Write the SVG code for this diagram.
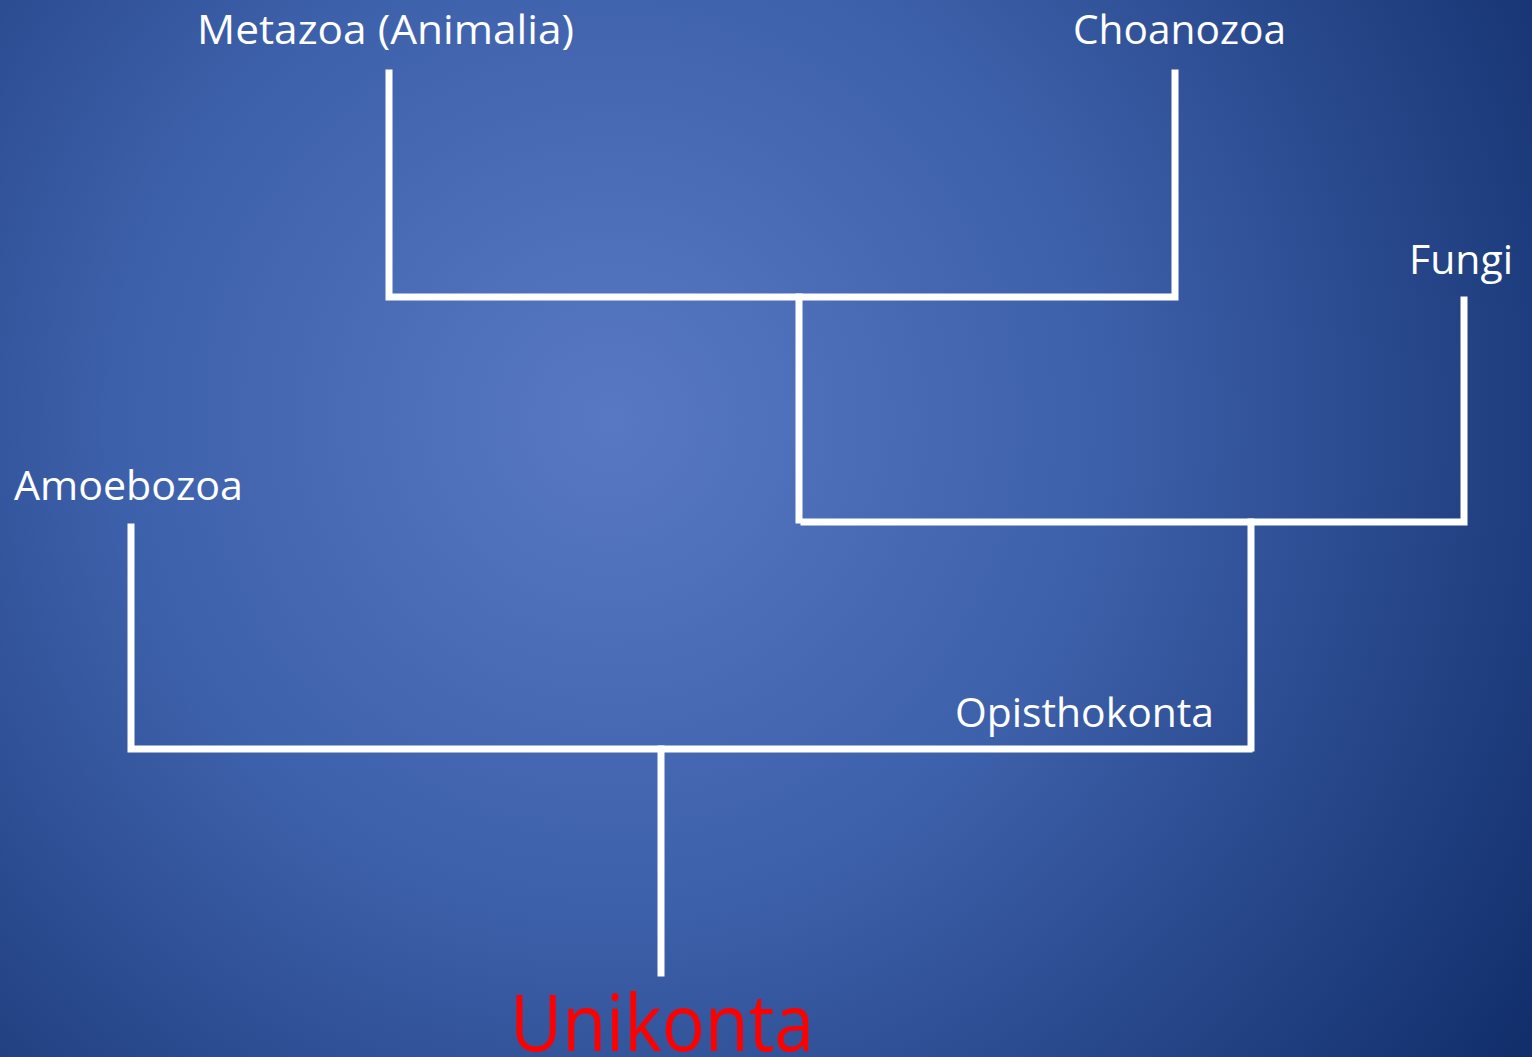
<svg xmlns="http://www.w3.org/2000/svg" width="1532" height="1057" viewBox="0 0 1532 1057">
<defs>
<radialGradient id="bg" gradientUnits="userSpaceOnUse" cx="610" cy="420" r="1100">
<stop offset="0" stop-color="#5878c4"/>
<stop offset="0.45" stop-color="#3d60aa"/>
<stop offset="1" stop-color="#122f6c"/>
</radialGradient>
<style>
.lbl{font-family:"Open Sans","Noto Sans",sans-serif;font-size:41px;fill:#ffffff}
.root{font-family:"Open Sans","Noto Sans",sans-serif;font-size:78px;fill:#ff0000}
.br{stroke:#ffffff;stroke-width:7;fill:none;stroke-linecap:square}
</style>
</defs>
<rect width="1532" height="1057" fill="url(#bg)"/>
<g id="connectors">
<polyline class="br" points="389,73 389,297 1175,297 1175,73"/>
<polyline class="br" points="799,297 799,520"/>
<polyline class="br" points="804,522 1464,522 1464,300"/>
<polyline class="br" points="1251,522 1251,748"/>
<polyline class="br" points="131,527 131,749 1249,749"/>
<polyline class="br" points="661,749 661,973"/>
</g>
<g id="metazoa"><text class="lbl" x="197" y="44" textLength="377" lengthAdjust="spacingAndGlyphs">Metazoa (Animalia)</text></g>
<g id="choanozoa"><text class="lbl" x="1073" y="44" textLength="213" lengthAdjust="spacingAndGlyphs">Choanozoa</text></g>
<g id="fungi"><text class="lbl" x="1409" y="274" textLength="104" lengthAdjust="spacingAndGlyphs">Fungi</text></g>
<g id="amoebozoa"><text class="lbl" x="14" y="500" textLength="229" lengthAdjust="spacingAndGlyphs">Amoebozoa</text></g>
<g id="opisthokonta"><text class="lbl" x="955" y="727" textLength="259" lengthAdjust="spacingAndGlyphs">Opisthokonta</text></g>
<g id="unikonta"><text class="root" x="510" y="1051" textLength="304" lengthAdjust="spacingAndGlyphs">Unikonta</text></g>
</svg>
